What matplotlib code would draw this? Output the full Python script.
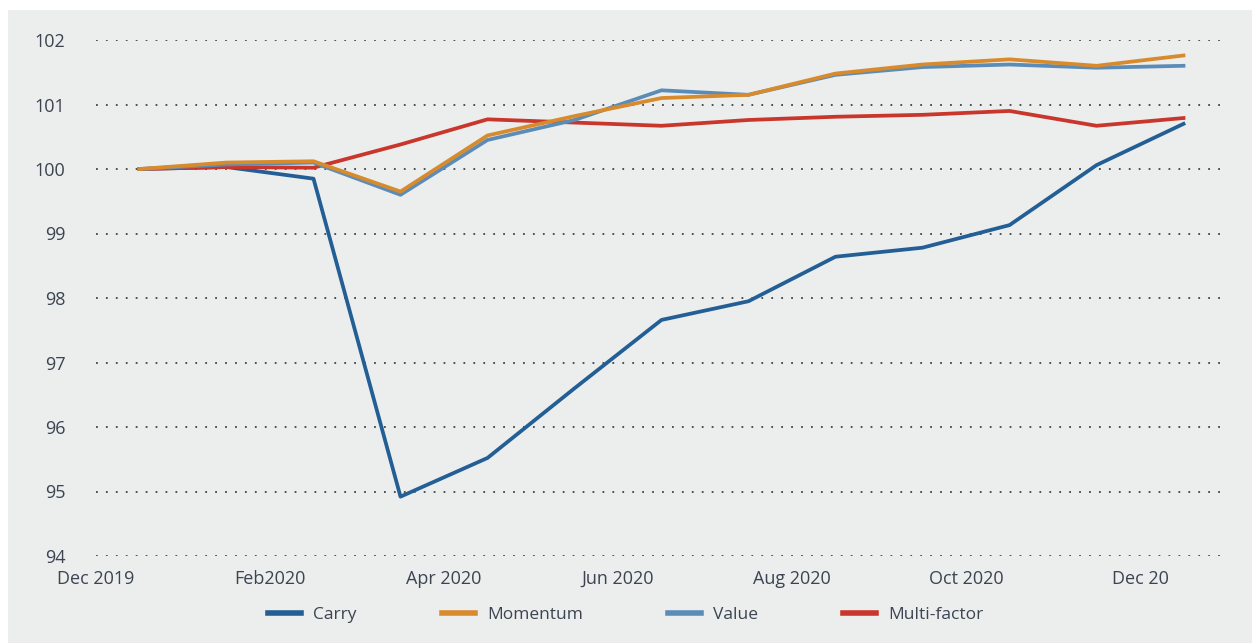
import numpy as np
import matplotlib
matplotlib.use("Agg")
from matplotlib import pyplot as plt
from matplotlib.patches import Rectangle

# month-end index levels, Dec 2019 = 100
months = ["Dec 2019", "Jan 2020", "Feb 2020", "Mar 2020", "Apr 2020", "May 2020", "Jun 2020",
          "Jul 2020", "Aug 2020", "Sep 2020", "Oct 2020", "Nov 2020", "Dec 2020"]
carry = [100.0, 100.03, 99.85, 94.92, 95.52, 96.6, 97.66, 97.95, 98.64, 98.78, 99.13, 100.06, 100.70]
momentum = [100.0, 100.10, 100.12, 99.65, 100.52, 100.82, 101.10, 101.15, 101.48, 101.62, 101.70, 101.60, 101.76]
value = [100.0, 100.07, 100.10, 99.60, 100.45, 100.76, 101.22, 101.15, 101.46, 101.58, 101.62, 101.57, 101.60]
multi = [100.0, 100.03, 100.02, 100.38, 100.77, 100.72, 100.67, 100.76, 100.81, 100.84, 100.90, 100.67, 100.79]

tick_labels = ["Dec 2019", "Feb2020", "Apr 2020", "Jun 2020", "Aug 2020", "Oct 2020", "Dec 20"]
yticks = [94, 95, 96, 97, 98, 99, 100, 101, 102]

c_carry = "#235E95"
c_mom = "#D88B2C"
c_val = "#5B8CB8"
c_multi = "#C9362B"
bg = "#ECEEEE"
txt = "#3B4450"

plt.rcParams["font.family"] = ["Open Sans", "DejaVu Sans"]

fig = plt.figure(figsize=(12.52, 6.43), dpi=100)
fig.patch.set_facecolor("white")
fig.patches.append(Rectangle((8 / 1252, 0), 1 - 8 / 1252, 1 - 10 / 643,
                             transform=fig.transFigure, facecolor=bg, edgecolor="none", zorder=-10))

ax = fig.add_axes([96 / 1252, 1 - 556 / 643, (1227 - 96) / 1252, (556 - 40) / 643])
ax.set_facecolor(bg)
ax.patch.set_alpha(0)

x = np.arange(len(months)) + 0.5
lw = 2.7
h_carry, = ax.plot(x, carry, color=c_carry, lw=lw, label="Carry", zorder=3)
h_multi, = ax.plot(x, multi, color=c_multi, lw=lw, label="Multi-factor", zorder=4)
h_val, = ax.plot(x, value, color=c_val, lw=lw, label="Value", zorder=5)
h_mom, = ax.plot(x, momentum, color=c_mom, lw=lw, label="Momentum", zorder=6)

ax.set_xlim(0, len(months))
ax.set_ylim(94, 102)
ax.set_yticks(yticks)
ax.set_yticklabels([str(v) for v in yticks])
ax.set_xticks(np.arange(0, len(months), 2))
ax.set_xticklabels(tick_labels)

ax.grid(axis="y", linestyle=(0, (1, 4.5)), color="#3F444A", lw=1.3)
ax.grid(axis="x", visible=False)
for s in ax.spines.values():
    s.set_visible(False)
ax.tick_params(axis="both", length=0, labelsize=13, colors=txt)
ax.tick_params(axis="y", pad=22)
ax.tick_params(axis="x", pad=10)

leg = fig.legend([h_carry, h_mom, h_val, h_multi], ["Carry", "Momentum", "Value", "Multi-factor"],
                 loc="center", bbox_to_anchor=(0.5, 1 - 615 / 643), ncol=4, frameon=False,
                 fontsize=12.5, handlelength=1.9, handletextpad=0.7, columnspacing=4.9)
for t in leg.get_texts():
    t.set_color(txt)
for l in leg.get_lines():
    l.set_linewidth(4)

fig.savefig("out.png", dpi=100)
